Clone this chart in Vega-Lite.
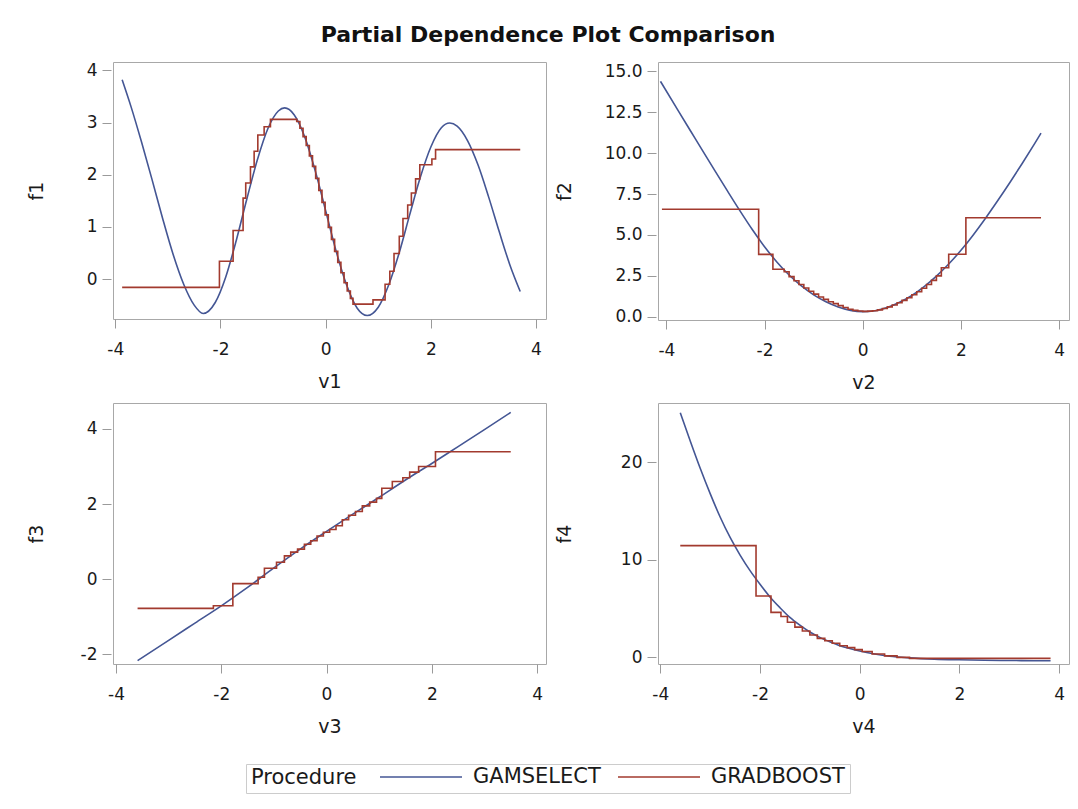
{
  "$schema": "https://vega.github.io/schema/vega-lite/v6.json",
  "background": "white",
  "padding": {"left": 26, "top": 23, "right": 8, "bottom": 12},
  "title": {"text": "Partial Dependence Plot Comparison", "fontSize": 22, "fontWeight": "bold", "font": "DejaVu Sans", "anchor": "middle", "color": "#111", "offset": 14},
  "datasets": {
    "p1": [
      {"v": -3.87, "f": 3.82, "Procedure": "GAMSELECT"},
      {"v": -3.7, "f": 3.3, "Procedure": "GAMSELECT"},
      {"v": -3.5, "f": 2.62, "Procedure": "GAMSELECT"},
      {"v": -3.3, "f": 1.9, "Procedure": "GAMSELECT"},
      {"v": -3.1, "f": 1.16, "Procedure": "GAMSELECT"},
      {"v": -2.9, "f": 0.47, "Procedure": "GAMSELECT"},
      {"v": -2.7, "f": -0.1, "Procedure": "GAMSELECT"},
      {"v": -2.5, "f": -0.5, "Procedure": "GAMSELECT"},
      {"v": -2.33, "f": -0.66, "Procedure": "GAMSELECT"},
      {"v": -2.1, "f": -0.45, "Procedure": "GAMSELECT"},
      {"v": -1.9, "f": 0.04, "Procedure": "GAMSELECT"},
      {"v": -1.7, "f": 0.74, "Procedure": "GAMSELECT"},
      {"v": -1.5, "f": 1.53, "Procedure": "GAMSELECT"},
      {"v": -1.3, "f": 2.28, "Procedure": "GAMSELECT"},
      {"v": -1.1, "f": 2.88, "Procedure": "GAMSELECT"},
      {"v": -0.9, "f": 3.22, "Procedure": "GAMSELECT"},
      {"v": -0.78, "f": 3.28, "Procedure": "GAMSELECT"},
      {"v": -0.6, "f": 3.15, "Procedure": "GAMSELECT"},
      {"v": -0.4, "f": 2.73, "Procedure": "GAMSELECT"},
      {"v": -0.2, "f": 2.08, "Procedure": "GAMSELECT"},
      {"v": 0.0, "f": 1.31, "Procedure": "GAMSELECT"},
      {"v": 0.2, "f": 0.53, "Procedure": "GAMSELECT"},
      {"v": 0.4, "f": -0.12, "Procedure": "GAMSELECT"},
      {"v": 0.6, "f": -0.56, "Procedure": "GAMSELECT"},
      {"v": 0.79, "f": -0.7, "Procedure": "GAMSELECT"},
      {"v": 1.0, "f": -0.54, "Procedure": "GAMSELECT"},
      {"v": 1.2, "f": -0.11, "Procedure": "GAMSELECT"},
      {"v": 1.4, "f": 0.51, "Procedure": "GAMSELECT"},
      {"v": 1.6, "f": 1.24, "Procedure": "GAMSELECT"},
      {"v": 1.8, "f": 1.95, "Procedure": "GAMSELECT"},
      {"v": 2.0, "f": 2.53, "Procedure": "GAMSELECT"},
      {"v": 2.2, "f": 2.9, "Procedure": "GAMSELECT"},
      {"v": 2.36, "f": 2.99, "Procedure": "GAMSELECT"},
      {"v": 2.5, "f": 2.93, "Procedure": "GAMSELECT"},
      {"v": 2.7, "f": 2.65, "Procedure": "GAMSELECT"},
      {"v": 2.9, "f": 2.18, "Procedure": "GAMSELECT"},
      {"v": 3.1, "f": 1.57, "Procedure": "GAMSELECT"},
      {"v": 3.3, "f": 0.91, "Procedure": "GAMSELECT"},
      {"v": 3.5, "f": 0.28, "Procedure": "GAMSELECT"},
      {"v": 3.7, "f": -0.24, "Procedure": "GAMSELECT"},
      {"v": -3.87, "f": -0.16, "Procedure": "GRADBOOST"},
      {"v": -2.02, "f": 0.34, "Procedure": "GRADBOOST"},
      {"v": -1.76, "f": 0.93, "Procedure": "GRADBOOST"},
      {"v": -1.57, "f": 1.55, "Procedure": "GRADBOOST"},
      {"v": -1.52, "f": 1.84, "Procedure": "GRADBOOST"},
      {"v": -1.43, "f": 2.15, "Procedure": "GRADBOOST"},
      {"v": -1.36, "f": 2.45, "Procedure": "GRADBOOST"},
      {"v": -1.29, "f": 2.76, "Procedure": "GRADBOOST"},
      {"v": -1.17, "f": 2.92, "Procedure": "GRADBOOST"},
      {"v": -1.05, "f": 3.06, "Procedure": "GRADBOOST"},
      {"v": -0.55, "f": 3.02, "Procedure": "GRADBOOST"},
      {"v": -0.49, "f": 2.89, "Procedure": "GRADBOOST"},
      {"v": -0.43, "f": 2.73, "Procedure": "GRADBOOST"},
      {"v": -0.37, "f": 2.56, "Procedure": "GRADBOOST"},
      {"v": -0.31, "f": 2.36, "Procedure": "GRADBOOST"},
      {"v": -0.25, "f": 2.16, "Procedure": "GRADBOOST"},
      {"v": -0.19, "f": 1.93, "Procedure": "GRADBOOST"},
      {"v": -0.13, "f": 1.7, "Procedure": "GRADBOOST"},
      {"v": -0.07, "f": 1.47, "Procedure": "GRADBOOST"},
      {"v": -0.01, "f": 1.23, "Procedure": "GRADBOOST"},
      {"v": 0.05, "f": 0.99, "Procedure": "GRADBOOST"},
      {"v": 0.11, "f": 0.76, "Procedure": "GRADBOOST"},
      {"v": 0.17, "f": 0.53, "Procedure": "GRADBOOST"},
      {"v": 0.23, "f": 0.32, "Procedure": "GRADBOOST"},
      {"v": 0.29, "f": 0.12, "Procedure": "GRADBOOST"},
      {"v": 0.35, "f": -0.07, "Procedure": "GRADBOOST"},
      {"v": 0.41, "f": -0.23, "Procedure": "GRADBOOST"},
      {"v": 0.47, "f": -0.37, "Procedure": "GRADBOOST"},
      {"v": 0.52, "f": -0.48, "Procedure": "GRADBOOST"},
      {"v": 0.9, "f": -0.4, "Procedure": "GRADBOOST"},
      {"v": 1.13, "f": -0.1, "Procedure": "GRADBOOST"},
      {"v": 1.22, "f": 0.15, "Procedure": "GRADBOOST"},
      {"v": 1.3, "f": 0.49, "Procedure": "GRADBOOST"},
      {"v": 1.4, "f": 0.82, "Procedure": "GRADBOOST"},
      {"v": 1.47, "f": 1.16, "Procedure": "GRADBOOST"},
      {"v": 1.56, "f": 1.42, "Procedure": "GRADBOOST"},
      {"v": 1.63, "f": 1.65, "Procedure": "GRADBOOST"},
      {"v": 1.71, "f": 1.92, "Procedure": "GRADBOOST"},
      {"v": 1.79, "f": 2.19, "Procedure": "GRADBOOST"},
      {"v": 2.02, "f": 2.3, "Procedure": "GRADBOOST"},
      {"v": 2.09, "f": 2.48, "Procedure": "GRADBOOST"},
      {"v": 3.7, "f": 2.48, "Procedure": "GRADBOOST"}
    ],
    "p2": [
      {"v": -4.12, "f": 14.39, "Procedure": "GAMSELECT"},
      {"v": -3.75, "f": 12.55, "Procedure": "GAMSELECT"},
      {"v": -3.5, "f": 11.32, "Procedure": "GAMSELECT"},
      {"v": -3.25, "f": 10.09, "Procedure": "GAMSELECT"},
      {"v": -3.0, "f": 8.87, "Procedure": "GAMSELECT"},
      {"v": -2.75, "f": 7.66, "Procedure": "GAMSELECT"},
      {"v": -2.5, "f": 6.47, "Procedure": "GAMSELECT"},
      {"v": -2.25, "f": 5.33, "Procedure": "GAMSELECT"},
      {"v": -2.0, "f": 4.28, "Procedure": "GAMSELECT"},
      {"v": -1.75, "f": 3.35, "Procedure": "GAMSELECT"},
      {"v": -1.5, "f": 2.55, "Procedure": "GAMSELECT"},
      {"v": -1.25, "f": 1.88, "Procedure": "GAMSELECT"},
      {"v": -1.0, "f": 1.34, "Procedure": "GAMSELECT"},
      {"v": -0.75, "f": 0.92, "Procedure": "GAMSELECT"},
      {"v": -0.5, "f": 0.6, "Procedure": "GAMSELECT"},
      {"v": -0.25, "f": 0.39, "Procedure": "GAMSELECT"},
      {"v": 0.0, "f": 0.31, "Procedure": "GAMSELECT"},
      {"v": 0.25, "f": 0.37, "Procedure": "GAMSELECT"},
      {"v": 0.5, "f": 0.56, "Procedure": "GAMSELECT"},
      {"v": 0.75, "f": 0.88, "Procedure": "GAMSELECT"},
      {"v": 1.0, "f": 1.3, "Procedure": "GAMSELECT"},
      {"v": 1.25, "f": 1.84, "Procedure": "GAMSELECT"},
      {"v": 1.5, "f": 2.48, "Procedure": "GAMSELECT"},
      {"v": 1.75, "f": 3.22, "Procedure": "GAMSELECT"},
      {"v": 2.0, "f": 4.06, "Procedure": "GAMSELECT"},
      {"v": 2.25, "f": 5.0, "Procedure": "GAMSELECT"},
      {"v": 2.5, "f": 6.02, "Procedure": "GAMSELECT"},
      {"v": 2.75, "f": 7.1, "Procedure": "GAMSELECT"},
      {"v": 3.0, "f": 8.22, "Procedure": "GAMSELECT"},
      {"v": 3.25, "f": 9.38, "Procedure": "GAMSELECT"},
      {"v": 3.5, "f": 10.58, "Procedure": "GAMSELECT"},
      {"v": 3.63, "f": 11.22, "Procedure": "GAMSELECT"},
      {"v": -4.09, "f": 6.57, "Procedure": "GRADBOOST"},
      {"v": -2.12, "f": 3.81, "Procedure": "GRADBOOST"},
      {"v": -1.83, "f": 2.9, "Procedure": "GRADBOOST"},
      {"v": -1.6, "f": 2.75, "Procedure": "GRADBOOST"},
      {"v": -1.5, "f": 2.45, "Procedure": "GRADBOOST"},
      {"v": -1.4, "f": 2.2, "Procedure": "GRADBOOST"},
      {"v": -1.3, "f": 1.97, "Procedure": "GRADBOOST"},
      {"v": -1.2, "f": 1.76, "Procedure": "GRADBOOST"},
      {"v": -1.1, "f": 1.56, "Procedure": "GRADBOOST"},
      {"v": -1.0, "f": 1.38, "Procedure": "GRADBOOST"},
      {"v": -0.9, "f": 1.21, "Procedure": "GRADBOOST"},
      {"v": -0.8, "f": 1.06, "Procedure": "GRADBOOST"},
      {"v": -0.7, "f": 0.92, "Procedure": "GRADBOOST"},
      {"v": -0.6, "f": 0.8, "Procedure": "GRADBOOST"},
      {"v": -0.5, "f": 0.68, "Procedure": "GRADBOOST"},
      {"v": -0.4, "f": 0.56, "Procedure": "GRADBOOST"},
      {"v": -0.3, "f": 0.46, "Procedure": "GRADBOOST"},
      {"v": -0.2, "f": 0.39, "Procedure": "GRADBOOST"},
      {"v": -0.1, "f": 0.35, "Procedure": "GRADBOOST"},
      {"v": 0.0, "f": 0.33, "Procedure": "GRADBOOST"},
      {"v": 0.1, "f": 0.34, "Procedure": "GRADBOOST"},
      {"v": 0.2, "f": 0.37, "Procedure": "GRADBOOST"},
      {"v": 0.3, "f": 0.42, "Procedure": "GRADBOOST"},
      {"v": 0.4, "f": 0.5, "Procedure": "GRADBOOST"},
      {"v": 0.5, "f": 0.6, "Procedure": "GRADBOOST"},
      {"v": 0.6, "f": 0.72, "Procedure": "GRADBOOST"},
      {"v": 0.7, "f": 0.85, "Procedure": "GRADBOOST"},
      {"v": 0.8, "f": 1.0, "Procedure": "GRADBOOST"},
      {"v": 0.9, "f": 1.16, "Procedure": "GRADBOOST"},
      {"v": 1.0, "f": 1.34, "Procedure": "GRADBOOST"},
      {"v": 1.1, "f": 1.53, "Procedure": "GRADBOOST"},
      {"v": 1.2, "f": 1.74, "Procedure": "GRADBOOST"},
      {"v": 1.3, "f": 1.97, "Procedure": "GRADBOOST"},
      {"v": 1.4, "f": 2.22, "Procedure": "GRADBOOST"},
      {"v": 1.5, "f": 2.5, "Procedure": "GRADBOOST"},
      {"v": 1.6, "f": 2.99, "Procedure": "GRADBOOST"},
      {"v": 1.75, "f": 3.82, "Procedure": "GRADBOOST"},
      {"v": 2.1, "f": 6.05, "Procedure": "GRADBOOST"},
      {"v": 3.63, "f": 6.05, "Procedure": "GRADBOOST"}
    ],
    "p3": [
      {"v": -3.59, "f": -2.17, "Procedure": "GAMSELECT"},
      {"v": -3.0, "f": -1.63, "Procedure": "GAMSELECT"},
      {"v": -2.5, "f": -1.17, "Procedure": "GAMSELECT"},
      {"v": -2.0, "f": -0.71, "Procedure": "GAMSELECT"},
      {"v": -1.5, "f": -0.22, "Procedure": "GAMSELECT"},
      {"v": -1.0, "f": 0.3, "Procedure": "GAMSELECT"},
      {"v": -0.5, "f": 0.8, "Procedure": "GAMSELECT"},
      {"v": 0.0, "f": 1.27, "Procedure": "GAMSELECT"},
      {"v": 0.5, "f": 1.73, "Procedure": "GAMSELECT"},
      {"v": 1.0, "f": 2.18, "Procedure": "GAMSELECT"},
      {"v": 1.5, "f": 2.64, "Procedure": "GAMSELECT"},
      {"v": 2.0, "f": 3.08, "Procedure": "GAMSELECT"},
      {"v": 2.5, "f": 3.53, "Procedure": "GAMSELECT"},
      {"v": 3.0, "f": 3.98, "Procedure": "GAMSELECT"},
      {"v": 3.5, "f": 4.44, "Procedure": "GAMSELECT"},
      {"v": -3.59, "f": -0.78, "Procedure": "GRADBOOST"},
      {"v": -2.15, "f": -0.71, "Procedure": "GRADBOOST"},
      {"v": -1.78, "f": -0.12, "Procedure": "GRADBOOST"},
      {"v": -1.3, "f": 0.05, "Procedure": "GRADBOOST"},
      {"v": -1.18, "f": 0.29, "Procedure": "GRADBOOST"},
      {"v": -0.95, "f": 0.45, "Procedure": "GRADBOOST"},
      {"v": -0.8, "f": 0.62, "Procedure": "GRADBOOST"},
      {"v": -0.68, "f": 0.72, "Procedure": "GRADBOOST"},
      {"v": -0.55, "f": 0.8, "Procedure": "GRADBOOST"},
      {"v": -0.42, "f": 0.93, "Procedure": "GRADBOOST"},
      {"v": -0.3, "f": 1.02, "Procedure": "GRADBOOST"},
      {"v": -0.18, "f": 1.15, "Procedure": "GRADBOOST"},
      {"v": -0.06, "f": 1.25, "Procedure": "GRADBOOST"},
      {"v": 0.06, "f": 1.32, "Procedure": "GRADBOOST"},
      {"v": 0.18, "f": 1.42, "Procedure": "GRADBOOST"},
      {"v": 0.3, "f": 1.58, "Procedure": "GRADBOOST"},
      {"v": 0.42, "f": 1.7, "Procedure": "GRADBOOST"},
      {"v": 0.55, "f": 1.8, "Procedure": "GRADBOOST"},
      {"v": 0.68, "f": 1.95, "Procedure": "GRADBOOST"},
      {"v": 0.82, "f": 2.05, "Procedure": "GRADBOOST"},
      {"v": 0.95, "f": 2.15, "Procedure": "GRADBOOST"},
      {"v": 1.05, "f": 2.42, "Procedure": "GRADBOOST"},
      {"v": 1.25, "f": 2.6, "Procedure": "GRADBOOST"},
      {"v": 1.45, "f": 2.7, "Procedure": "GRADBOOST"},
      {"v": 1.58, "f": 2.85, "Procedure": "GRADBOOST"},
      {"v": 1.75, "f": 3.0, "Procedure": "GRADBOOST"},
      {"v": 2.07, "f": 3.39, "Procedure": "GRADBOOST"},
      {"v": 3.5, "f": 3.39, "Procedure": "GRADBOOST"}
    ],
    "p4": [
      {"v": -3.6, "f": 25.1, "Procedure": "GAMSELECT"},
      {"v": -3.4, "f": 22.2, "Procedure": "GAMSELECT"},
      {"v": -3.2, "f": 19.4, "Procedure": "GAMSELECT"},
      {"v": -3.0, "f": 16.8, "Procedure": "GAMSELECT"},
      {"v": -2.8, "f": 14.4, "Procedure": "GAMSELECT"},
      {"v": -2.6, "f": 12.3, "Procedure": "GAMSELECT"},
      {"v": -2.4, "f": 10.5, "Procedure": "GAMSELECT"},
      {"v": -2.2, "f": 8.9, "Procedure": "GAMSELECT"},
      {"v": -2.0, "f": 7.5, "Procedure": "GAMSELECT"},
      {"v": -1.8, "f": 6.2, "Procedure": "GAMSELECT"},
      {"v": -1.6, "f": 5.1, "Procedure": "GAMSELECT"},
      {"v": -1.4, "f": 4.1, "Procedure": "GAMSELECT"},
      {"v": -1.2, "f": 3.3, "Procedure": "GAMSELECT"},
      {"v": -1.0, "f": 2.6, "Procedure": "GAMSELECT"},
      {"v": -0.8, "f": 2.05, "Procedure": "GAMSELECT"},
      {"v": -0.6, "f": 1.6, "Procedure": "GAMSELECT"},
      {"v": -0.4, "f": 1.2, "Procedure": "GAMSELECT"},
      {"v": -0.2, "f": 0.9, "Procedure": "GAMSELECT"},
      {"v": 0.0, "f": 0.65, "Procedure": "GAMSELECT"},
      {"v": 0.3, "f": 0.35, "Procedure": "GAMSELECT"},
      {"v": 0.6, "f": 0.12, "Procedure": "GAMSELECT"},
      {"v": 1.0, "f": -0.05, "Procedure": "GAMSELECT"},
      {"v": 1.5, "f": -0.18, "Procedure": "GAMSELECT"},
      {"v": 2.0, "f": -0.25, "Procedure": "GAMSELECT"},
      {"v": 2.5, "f": -0.3, "Procedure": "GAMSELECT"},
      {"v": 3.0, "f": -0.32, "Procedure": "GAMSELECT"},
      {"v": 3.5, "f": -0.34, "Procedure": "GAMSELECT"},
      {"v": 3.83, "f": -0.35, "Procedure": "GAMSELECT"},
      {"v": -3.6, "f": 11.47, "Procedure": "GRADBOOST"},
      {"v": -2.08, "f": 6.3, "Procedure": "GRADBOOST"},
      {"v": -1.78, "f": 4.62, "Procedure": "GRADBOOST"},
      {"v": -1.58, "f": 4.2, "Procedure": "GRADBOOST"},
      {"v": -1.45, "f": 3.6, "Procedure": "GRADBOOST"},
      {"v": -1.3, "f": 3.1, "Procedure": "GRADBOOST"},
      {"v": -1.15, "f": 2.7, "Procedure": "GRADBOOST"},
      {"v": -1.0, "f": 2.3, "Procedure": "GRADBOOST"},
      {"v": -0.85, "f": 1.95, "Procedure": "GRADBOOST"},
      {"v": -0.7, "f": 1.7, "Procedure": "GRADBOOST"},
      {"v": -0.55, "f": 1.45, "Procedure": "GRADBOOST"},
      {"v": -0.4, "f": 1.2, "Procedure": "GRADBOOST"},
      {"v": -0.25, "f": 1.0, "Procedure": "GRADBOOST"},
      {"v": -0.1, "f": 0.8, "Procedure": "GRADBOOST"},
      {"v": 0.05, "f": 0.6, "Procedure": "GRADBOOST"},
      {"v": 0.25, "f": 0.35, "Procedure": "GRADBOOST"},
      {"v": 0.5, "f": 0.15, "Procedure": "GRADBOOST"},
      {"v": 0.75, "f": 0.0, "Procedure": "GRADBOOST"},
      {"v": 1.0, "f": -0.1, "Procedure": "GRADBOOST"},
      {"v": 3.83, "f": -0.1, "Procedure": "GRADBOOST"}
    ]
  },
  "columns": 2,
  "spacing": {"row": 83, "column": 112},
  "bounds": "flush",
  "concat": [
    {
      "width": 433, "height": 257,
      "data": {"name": "p1"},
      "encoding": {
        "x": {"field": "v", "type": "quantitative", "scale": {"domain": [-4.044, 4.19], "nice": false, "zero": false}, "axis": {"values": [-4, -2, 0, 2, 4], "title": "v1", "labelExpr": "replace(datum.label, '\u2212', '-')"}},
        "y": {"field": "f", "type": "quantitative", "scale": {"domain": [-0.766, 4.16], "nice": false, "zero": false}, "axis": {"values": [0, 1, 2, 3, 4], "title": "f1", "titlePadding": 40}},
        "color": {"field": "Procedure", "type": "nominal", "scale": {"domain": ["GAMSELECT", "GRADBOOST"], "range": ["#445694", "#A23A2E"]}, "legend": {"title": "Procedure"}}
      },
      "layer": [
        {"transform": [{"filter": "datum.Procedure === 'GAMSELECT'"}], "mark": {"type": "line", "interpolate": "monotone", "strokeWidth": 1.6, "clip": true}},
        {"transform": [{"filter": "datum.Procedure === 'GRADBOOST'"}], "mark": {"type": "line", "interpolate": "step-after", "strokeWidth": 1.6, "clip": true}}
      ]
    },
    {
      "width": 411, "height": 258,
      "data": {"name": "p2"},
      "encoding": {
        "x": {"field": "v", "type": "quantitative", "scale": {"domain": [-4.17, 4.2], "nice": false, "zero": false}, "axis": {"values": [-4, -2, 0, 2, 4], "title": "v2", "labelExpr": "replace(datum.label, '\u2212', '-')"}},
        "y": {"field": "f", "type": "quantitative", "scale": {"domain": [-0.2, 15.57], "nice": false, "zero": false}, "axis": {"values": [0, 2.5, 5, 7.5, 10, 12.5, 15], "format": ".1f", "title": "f2", "titlePadding": 30}},
        "color": {"field": "Procedure", "type": "nominal", "scale": {"domain": ["GAMSELECT", "GRADBOOST"], "range": ["#445694", "#A23A2E"]}, "legend": {"title": "Procedure"}}
      },
      "layer": [
        {"transform": [{"filter": "datum.Procedure === 'GAMSELECT'"}], "mark": {"type": "line", "interpolate": "monotone", "strokeWidth": 1.6, "clip": true}},
        {"transform": [{"filter": "datum.Procedure === 'GRADBOOST'"}], "mark": {"type": "line", "interpolate": "step-after", "strokeWidth": 1.6, "clip": true}}
      ]
    },
    {
      "width": 433, "height": 261,
      "data": {"name": "p3"},
      "encoding": {
        "x": {"field": "v", "type": "quantitative", "scale": {"domain": [-4.057, 4.17], "nice": false, "zero": false}, "axis": {"values": [-4, -2, 0, 2, 4], "title": "v3", "labelExpr": "replace(datum.label, '\u2212', '-')"}},
        "y": {"field": "f", "type": "quantitative", "scale": {"domain": [-2.26, 4.69], "nice": false, "zero": false}, "axis": {"values": [-2, 0, 2, 4], "title": "f3", "titlePadding": 34, "labelExpr": "replace(datum.label, '\u2212', '-')"}},
        "color": {"field": "Procedure", "type": "nominal", "scale": {"domain": ["GAMSELECT", "GRADBOOST"], "range": ["#445694", "#A23A2E"]}, "legend": {"title": "Procedure"}}
      },
      "layer": [
        {"transform": [{"filter": "datum.Procedure === 'GAMSELECT'"}], "mark": {"type": "line", "interpolate": "monotone", "strokeWidth": 1.6, "clip": true}},
        {"transform": [{"filter": "datum.Procedure === 'GRADBOOST'"}], "mark": {"type": "line", "interpolate": "step-after", "strokeWidth": 1.6, "clip": true}}
      ]
    },
    {
      "width": 411, "height": 261,
      "data": {"name": "p4"},
      "encoding": {
        "x": {"field": "v", "type": "quantitative", "scale": {"domain": [-4.047, 4.2], "nice": false, "zero": false}, "axis": {"values": [-4, -2, 0, 2, 4], "title": "v4", "labelExpr": "replace(datum.label, '\u2212', '-')"}},
        "y": {"field": "f", "type": "quantitative", "scale": {"domain": [-0.68, 26.1], "nice": false, "zero": false}, "axis": {"values": [0, 10, 20], "title": "f4", "titlePadding": 46}},
        "color": {"field": "Procedure", "type": "nominal", "scale": {"domain": ["GAMSELECT", "GRADBOOST"], "range": ["#445694", "#A23A2E"]}, "legend": {"title": "Procedure"}}
      },
      "layer": [
        {"transform": [{"filter": "datum.Procedure === 'GAMSELECT'"}], "mark": {"type": "line", "interpolate": "monotone", "strokeWidth": 1.6, "clip": true}},
        {"transform": [{"filter": "datum.Procedure === 'GRADBOOST'"}], "mark": {"type": "line", "interpolate": "step-after", "strokeWidth": 1.6, "clip": true}}
      ]
    }
  ],
  "config": {
    "font": "DejaVu Sans",
    "view": {"stroke": "#a8a8a8", "strokeWidth": 1},
    "axis": {"domain": false, "grid": false, "tickColor": "#9a9a9a", "tickSize": 9, "tickWidth": 1, "labelFont": "DejaVu Sans", "labelFontSize": 17, "labelColor": "#1a1a1a", "titleFont": "DejaVu Sans", "titleFontSize": 19, "titleFontWeight": "normal", "titleColor": "#1a1a1a", "labelFlush": false},
    "axisX": {"offset": 0, "labelPadding": 13, "titlePadding": 15},
    "axisY": {"offset": 2, "labelPadding": 5},
    "legend": {"orient": "bottom", "direction": "horizontal", "titleOrient": "left", "titleAnchor": "middle", "titleBaseline": "middle", "titleFont": "DejaVu Sans", "titleFontSize": 21, "titleFontWeight": "normal", "titleColor": "#1a1a1a", "labelFont": "DejaVu Sans", "labelFontSize": 21, "labelColor": "#1a1a1a", "symbolType": "stroke", "symbolSize": 6724, "symbolStrokeWidth": 1.6, "clipHeight": 16, "strokeColor": "#cccccc", "padding": 5, "columnPadding": 16, "labelOffset": 10, "titlePadding": 22, "offset": 27, "layout": {"bottom": {"anchor": "middle"}}}
  }
}
